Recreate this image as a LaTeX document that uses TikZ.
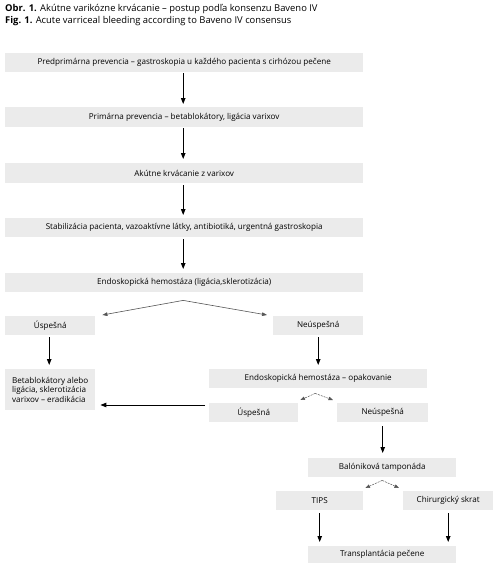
\documentclass[tikz,border=0pt]{standalone}
\usepackage{fontspec}
\setmainfont{Open Sans}
\usetikzlibrary{arrows.meta}
\definecolor{boxgray}{HTML}{EBEBEB}
\definecolor{lightarr}{HTML}{555555}
\tikzset{
  box/.style={fill=boxgray, draw=none, anchor=north west, inner sep=0pt, font=\fontsize{8.1}{9.3}\selectfont, align=center},
  arr/.style={line width=1pt, -{Triangle[length=6pt,width=4.5pt]}},
  thinarr/.style={line width=0.6pt, draw=lightarr, -{Triangle[length=5pt,width=3.6pt]}},
  dasharr/.style={line width=0.5pt, draw=lightarr, dash pattern=on 2pt off 1pt, -{Triangle[length=4.5pt,width=3.5pt]}},
  ttl/.style={anchor=base west, inner sep=0pt, font=\fontsize{9.4}{11}\selectfont}
}
\begin{document}
\begin{tikzpicture}[x=1pt,y=-1pt]
\useasboundingbox (0,0) rectangle (500,570);
\node[ttl] (t1) at (5,11.5) {\textbf{Obr. 1.} Akútne varikózne krvácanie – postup podľa konsenzu Baveno IV};
\node[ttl] (t2) at (5,23.5) {\textbf{Fig. 1.} Acute varriceal bleeding according to Baveno IV consensus};

\node[box, minimum width=358pt, minimum height=19pt] (b1) at (5,53) {Predprimárna prevencia – gastroskopia u každého pacienta s cirhózou pečene};
\node[box, minimum width=358pt, minimum height=20pt] (b2) at (5,107) {Primárna prevencia – betablokátory, ligácia varixov};
\node[box, minimum width=358pt, minimum height=20pt] (b3) at (5,163) {Akútne krvácanie z varixov};
\node[box, minimum width=358pt, minimum height=19pt] (b4) at (5,218) {Stabilizácia pacienta, vazoaktívne látky, antibiotiká, urgentná gastroskopia};
\node[box, minimum width=358pt, minimum height=19pt] (b5) at (5,273) {Endoskopická hemostáza (ligácia,sklerotizácia)};
\node[box, minimum width=90pt, minimum height=19pt] (u1) at (5,316) {Úspešná};
\node[box, minimum width=90pt, minimum height=19pt] (n1) at (273,316) {Neúspešná};
\node[box, minimum width=90pt, minimum height=41pt, align=left] (beta) at (5,369) {Betablokátory alebo\\ligácia, sklerotizácia\\varixov – eradikácia};
\node[box, minimum width=218pt, minimum height=19pt] (e2) at (209,369) {Endoskopická hemostáza – opakovanie};
\node[box, minimum width=89pt, minimum height=19pt] (u2) at (209,403) {Úspešná};
\node[box, minimum width=91pt, minimum height=19pt] (n2) at (337,403) {Neúspešná};
\node[box, minimum width=148pt, minimum height=19pt] (bal) at (308,458) {Balóniková tamponáda};
\node[box, minimum width=87pt, minimum height=19pt] (tips) at (276,491) {TIPS};
\node[box, minimum width=90pt, minimum height=19pt] (chir) at (403,491) {Chirurgický skrat};
\node[box, minimum width=148pt, minimum height=17pt] (tr) at (308,546) {Transplantácia pečene};

\draw[arr] ([shift={(-1,1)}]b1.south) -- ([shift={(-1,-3)}]b2.north);
\draw[arr] ([shift={(-1,1)}]b2.south) -- ([shift={(-1,-4)}]b3.north);
\draw[arr] ([shift={(-1,2)}]b3.south) -- ([shift={(-1,-3)}]b4.north);
\draw[arr] ([shift={(-1,2)}]b4.south) -- ([shift={(-1,-4)}]b5.north);

\coordinate (d1) at ([shift={(-1,8)}]b5.south);
\draw[thinarr] (d1) -- ([shift={(7,-1)}]u1.north east);
\draw[thinarr] (d1) -- ([shift={(-6,-1)}]n1.north west);

\draw[arr] ([shift={(-1,2)}]u1.south) -- ([shift={(-1,-4)}]beta.north);
\draw[arr] ([shift={(0,2)}]n1.south) -- ([shift={(0,-4)}]e2.north);

\coordinate (d2) at ([shift={(-3,5)}]e2.south);
\draw[dasharr] (d2) -- ([shift={(2,-3)}]u2.north east);
\draw[dasharr] (d2) -- ([shift={(-4,-3)}]n2.north west);

\draw[arr] ([shift={(-4,2)}]u2.north west) -- ([shift={(5,2)}]u2.north west -| beta.east);

\draw[arr] ([shift={(0,4)}]n2.south) -- ([shift={(0,-5)}]n2.south |- bal.north);

\coordinate (d3) at ([shift={(0,3)}]bal.south);
\draw[dasharr] (d3) -- ([shift={(2,-3)}]tips.north east);
\draw[dasharr] (d3) -- ([shift={(-4,-3)}]chir.north west);

\draw[arr] ([shift={(0,3)}]tips.south) -- ([shift={(0,-4)}]tips.south |- tr.north);
\draw[arr] ([shift={(0,3)}]chir.south) -- ([shift={(0,-4)}]chir.south |- tr.north);
\end{tikzpicture}
\end{document}
